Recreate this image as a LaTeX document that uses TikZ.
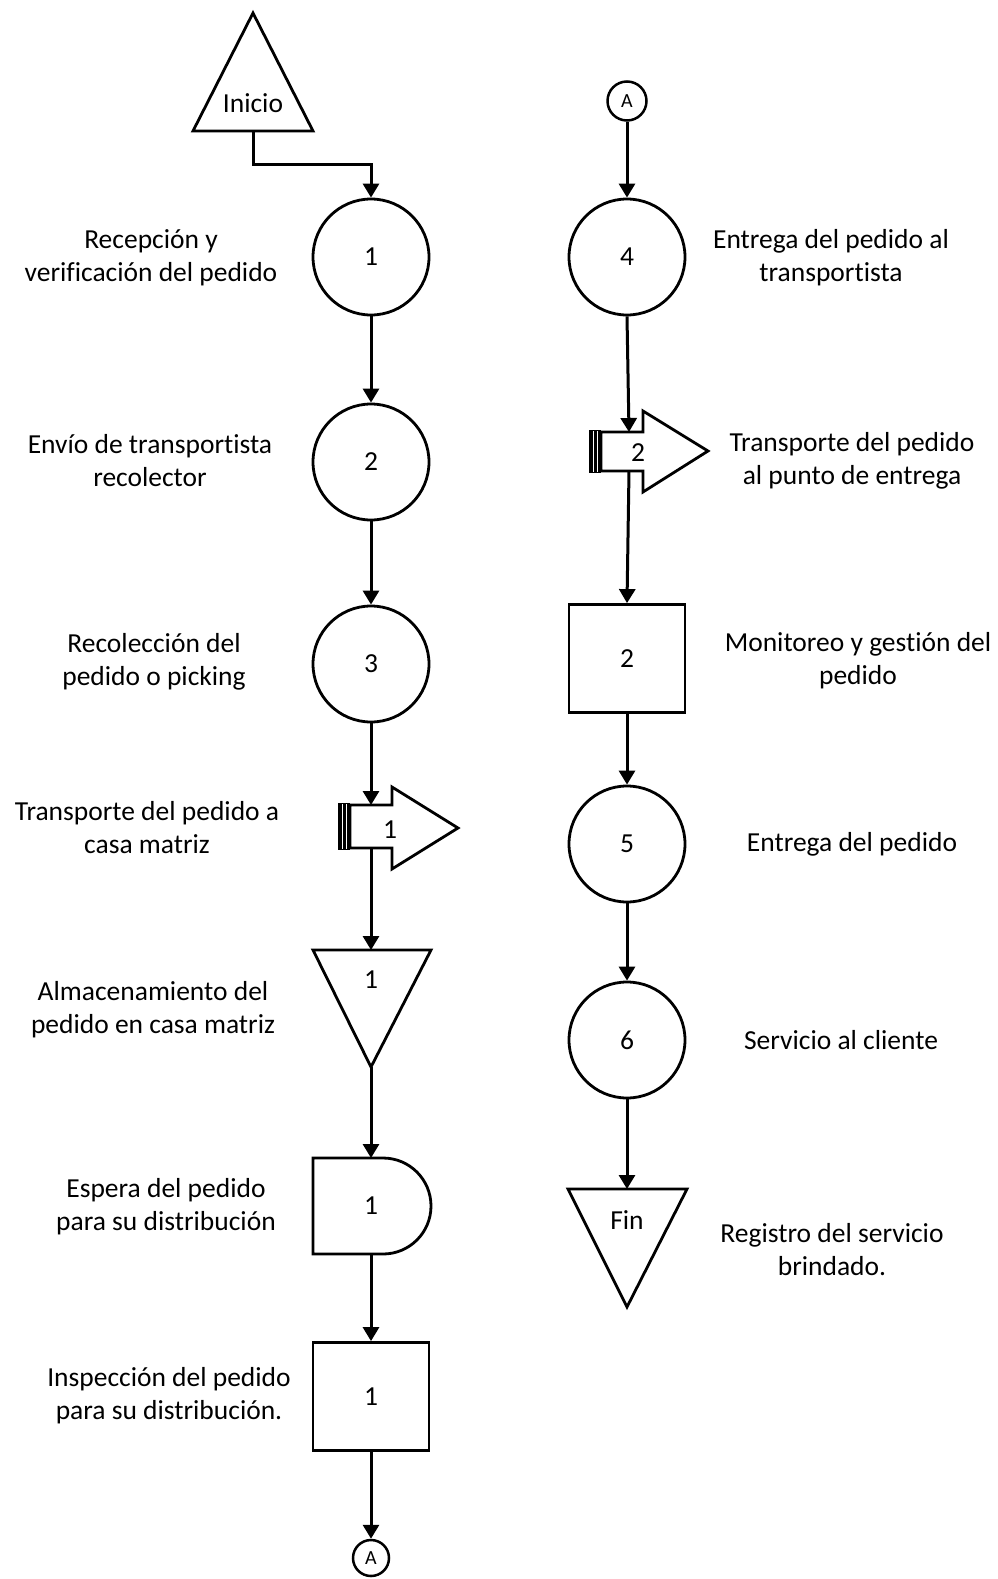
\documentclass[tikz,border=0pt]{standalone}
\usepackage{fontspec}
\setmainfont{Carlito}[RawFeature={-liga;-clig;-dlig;-calt}]
\usetikzlibrary{arrows.meta}
\begin{document}
\begin{tikzpicture}[x=1pt,y=-1pt,
  every node/.style={font=\fontsize{27.5}{33}\selectfont},
  shp/.style={draw=black, line width=2.8pt, fill=white},
  opcirc/.style={shp, circle, minimum size=116pt, inner sep=0pt},
  boxnode/.style={shp, rectangle, minimum width=116pt, minimum height=108pt, inner sep=0pt},
  conn/.style={circle, draw, fill=white, line width=2.5pt, inner sep=0pt, font=\fontsize{20}{22}\selectfont},
  flow/.style={line width=3pt, -{Triangle[length=14pt,width=16pt]}},
  lbl/.style={align=center},
  barline/.style={white, line width=0.7pt},
]
\useasboundingbox (0,0) rectangle (998,1579);

% ---------- left column ----------
% start
\draw[shp] (193,131) -- (253,13) -- (313,131) -- cycle;
\node (inicio) at (253,103) {Inicio};
\coordinate (inicioB) at (253,131);

\node[opcirc] (c1) at (371,257) {1};
\node[opcirc] (c2) at (371,462) {2};
\node[opcirc] (c3) at (371,664) {3};

% transport 1
\draw[shp] (350,805) -- (392,805) -- (392,787) -- (458,828) -- (392,869) -- (392,848) -- (350,848) -- cycle;
\fill (338,803) rectangle (350,850);
\draw[barline] (342,804) -- (342,849);
\draw[barline] (346,804) -- (346,849);
\node (t1) at (390,830) {1};
\coordinate (t1in) at (371,805);
\coordinate (t1out) at (371,848);

% storage
\draw[shp] (313,950) -- (431,950) -- (371,1067) -- cycle;
\node (alm) at (371,980) {1};
\coordinate (almT) at (371,950);
\coordinate (almB) at (371,1067);

% delay
\draw[shp] (383,1254) -- (313,1254) -- (313,1158) -- (383,1158) arc[start angle=-90, end angle=90, radius=48] -- cycle;
\node (esp) at (371,1206) {1};
\coordinate (espT) at (371,1158);
\coordinate (espB) at (371,1254);

% inspection
\node[boxnode] (insp) at (371,1396.5) {1};

% off-page connector
\node[conn, minimum size=36pt] (aB) at (371,1558) {A};

% ---------- right column ----------
\node[conn, minimum size=39pt] (aT) at (627,101) {A};
\node[opcirc] (c4) at (627,257) {4};

% transport 2
\draw[shp] (601,432) -- (643,432) -- (643,411) -- (708,451) -- (643,492) -- (643,471) -- (601,471) -- cycle;
\fill (589,430) rectangle (601,473);
\draw[barline] (593,431) -- (593,472);
\draw[barline] (597,431) -- (597,472);
\node (t2) at (638,453) {2};
\coordinate (t2in) at (629,432);
\coordinate (t2out) at (629,471);

\node[boxnode] (mon) at (627,658.5) {2};
\node[opcirc] (c5) at (627,844) {5};
\node[opcirc] (c6) at (627,1040) {6};

% end
\draw[shp] (568,1189) -- (687,1189) -- (627,1307) -- cycle;
\node (fin) at (627,1220) {Fin};
\coordinate (finT) at (627,1189);

% ---------- connectors ----------
\draw[flow] (inicioB) -- ++(0,33) -| (c1.north);
\draw[flow] (c1.south) -- (c2.north);
\draw[flow] (c2.south) -- (c3.north);
\draw[flow] (c3.south) -- (t1in);
\draw[flow] (t1out) -- (almT);
\draw[flow] (almB) -- (espT);
\draw[flow] (espB) -- (insp.north);
\draw[flow] (insp.south) -- (aB.north);

\draw[flow] (aT.south) -- (c4.north);
\draw[flow] (c4.south) -- (t2in);
\draw[flow] (t2out) -- (mon.north);
\draw[flow] (mon.south) -- (c5.north);
\draw[flow] (c5.south) -- (c6.north);
\draw[flow] (c6.south) -- (finT);

% ---------- labels ----------
\node[lbl] (l1) at (151,257.5) {Recepción y\\verificación del pedido};
\node[lbl] (l2) at (150,460.5) {Envío de transportista\\recolector};
\node[lbl] (l3) at (154,661.5) {Recolección del\\pedido o picking};
\node[lbl] (l4) at (147,827.5) {Transporte del pedido a\\casa matriz};
\node[lbl] (l5) at (153,1010) {Almacenamiento del\\pedido en casa matriz};
\node[lbl] (l6) at (166,1206.5) {Espera del pedido\\para su distribución};
\node[lbl] (l7) at (169,1395.5) {Inspección del pedido\\para su distribución.};

\node[lbl] (r1) at (831,257.5) {Entrega del pedido al\\transportista};
\node[lbl] (r2) at (852,460.5) {Transporte del pedido\\al punto de entrega};
\node[lbl] (r3) at (858,660.5) {Monitoreo y gestión del\\pedido};
\node[lbl] (r4) at (852,844) {Entrega del pedido};
\node[lbl] (r5) at (841,1040) {Servicio al cliente};
\node[lbl] (r6) at (832,1249.5) {Registro del servicio\\brindado.};
\end{tikzpicture}
\end{document}
